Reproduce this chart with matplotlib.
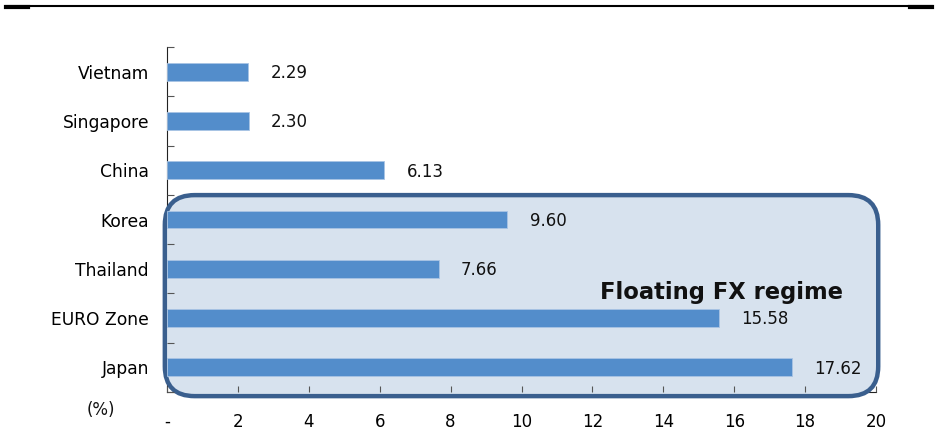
import matplotlib.pyplot as plt
from matplotlib.patches import FancyBboxPatch
from matplotlib.lines import Line2D

# Exchange-rate data, bottom to top
countries = ["Japan", "EURO Zone", "Thailand", "Korea", "China", "Singapore", "Vietnam"]
values = [17.62, 15.58, 7.66, 9.60, 6.13, 2.30, 2.29]
xticks = [0, 2, 4, 6, 8, 10, 12, 14, 16, 18, 20]
xtick_labels = ["-", "2", "4", "6", "8", "10", "12", "14", "16", "18", "20"]

plt.rcParams["font.family"] = "DejaVu Sans"

fig = plt.figure(figsize=(9.38, 4.37), dpi=100)
ax = fig.add_axes([0.178, 0.103, 0.756, 0.789])

pos = list(range(len(countries)))
ax.barh(pos, values, height=0.36, color="#538DCB", edgecolor="#A9C4E4",
        linewidth=0.6, zorder=2)

for p, v in zip(pos, values):
    ax.annotate(f"{v:.2f}", (v, p), xytext=(16, -1), textcoords="offset points",
                ha="left", va="center", fontsize=12, color="#111111", zorder=3)

ax.set_xlim(0, 20)
ax.set_ylim(-0.5, len(countries) - 0.5)
ax.set_xticks(xticks)
ax.set_xticklabels(xtick_labels)
ax.set_yticks(pos)
ax.set_yticklabels(countries)
ax.set_yticks([p - 0.5 for p in pos] + [len(countries) - 0.5], minor=True)

ax.tick_params(axis="x", direction="in", length=4, width=0.8, color="#555555",
               labelsize=12, pad=15)
ax.tick_params(axis="y", which="major", length=0, labelsize=12.3, pad=13)
ax.tick_params(axis="y", which="minor", direction="in", length=5, width=0.8,
               color="#555555")

for side in ["top", "right"]:
    ax.spines[side].set_visible(False)
for side in ["left", "bottom"]:
    ax.spines[side].set_color("#222222")
    ax.spines[side].set_linewidth(0.8)
    ax.spines[side].set_zorder(0.4)

# rounded highlight around the floating-regime countries
aw = 0.756 * 938
ah = 0.789 * 437
box = FancyBboxPatch((-0.003, -0.012), 1.006, 0.583,
                     boxstyle="round,pad=0,rounding_size=0.042",
                     mutation_aspect=aw / ah,
                     transform=ax.transAxes, clip_on=False,
                     facecolor="#D7E2EE", edgecolor="#3A5F8E", linewidth=3.2,
                     zorder=0.5)
ax.add_patch(box)

ax.text(12.2, 1.39, "Floating FX regime", fontsize=16.3, fontweight="bold",
        ha="left", va="baseline", color="#111111", zorder=3)

fig.text(0.108, 0.062, "(%)", fontsize=12, ha="center", va="center", color="#111111")

# rule across the top of the page
fig.add_artist(Line2D([0.006, 0.994], [0.986, 0.986], color="black", linewidth=1.5))
fig.add_artist(Line2D([0.006, 0.03], [0.985, 0.985], color="black", linewidth=3))
fig.add_artist(Line2D([0.97, 0.994], [0.985, 0.985], color="black", linewidth=3))

fig.savefig("out.png", dpi=100)
